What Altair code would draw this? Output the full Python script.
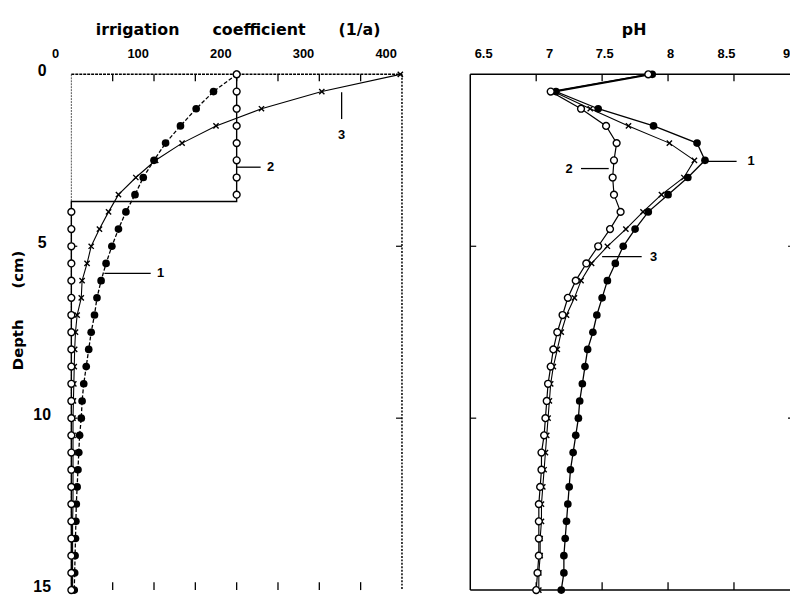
import altair as alt
import pandas as pd

FONT = "Liberation Sans"
TFONT = "DejaVu Sans"

# ---------------- data ----------------
depth = [0, 0.5, 1, 1.5, 2, 2.5, 3, 3.5, 4, 4.5, 5, 5.5, 6, 6.5, 7, 7.5,
         8, 8.5, 9, 9.5, 10, 10.5, 11, 11.5, 12, 12.5, 13, 13.5, 14, 14.5, 15]

# irrigation coefficient (1/a)
irr_1 = [200, 172, 151, 132, 114, 100, 87, 77, 66, 57, 49, 42, 36, 31, 28, 24,
         21, 18, 15, 13, 12, 10, 9, 8, 7, 6, 5.5, 5, 4.5, 4, 3.5]
irr_2 = [200, 200, 200, 200, 200, 200, 200, 200, 0, 0, 0, 0, 0, 0, 0, 0,
         0, 0, 0, 0, 0, 0, 0, 0, 0, 0, 0, 0, 0, 0, 0]
irr_3 = [398, 303, 230, 175, 134, 102, 78, 57, 45, 34, 24, 19, 13, 12, 7, 5,
         4, 3.5, 3, 2.5, 2, 2, 2, 2, 2, 2, 1.5, 1.5, 1.5, 1.5, 1.5]
# step of curve 2 (drawn line)
step_depth = [3.7, 3.7]
step_value = [200, 0]

# pH
ph_1 = [7.88, 7.15, 7.47, 7.89, 8.22, 8.28, 8.15, 8.00, 7.85, 7.75, 7.66, 7.60,
        7.54, 7.50, 7.46, 7.43, 7.39, 7.37, 7.35, 7.33, 7.32, 7.30, 7.28, 7.26,
        7.25, 7.24, 7.23, 7.22, 7.21, 7.21, 7.19]
ph_2 = [7.85, 7.11, 7.34, 7.53, 7.61, 7.59, 7.58, 7.59, 7.64, 7.56, 7.47, 7.38,
        7.30, 7.24, 7.20, 7.16, 7.13, 7.11, 7.09, 7.08, 7.07, 7.06, 7.04, 7.04,
        7.03, 7.02, 7.02, 7.02, 7.02, 7.01, 7.00]
ph_3 = [7.85, 7.13, 7.41, 7.70, 8.01, 8.20, 8.12, 7.95, 7.81, 7.68, 7.54, 7.42,
        7.34, 7.29, 7.23, 7.19, 7.16, 7.13, 7.11, 7.10, 7.09, 7.08, 7.07, 7.06,
        7.05, 7.04, 7.04, 7.03, 7.03, 7.02, 7.02]

irr_ticks = [50, 100, 150, 200, 250, 300, 350]
irr_labels = [0, 100, 200, 300, 400]
ph_ticks = [7, 7.5, 8, 8.5]
ph_labels = [6.5, 7, 7.5, 8, 8.5, 9]
depth_labels = [0, 5, 10, 15]
depth_ticks = [5, 10]

# annotations
ann_L = pd.DataFrame({"label": ["3", "2", "1"], "value": [327, 241, 108],
                      "depth": [1.76, 2.7, 5.79]})
lead_L = pd.DataFrame({"value": [327, 200, 40], "value2": [327, 229, 96],
                       "depth": [0.52, 2.7, 5.79], "depth2": [1.3, 2.7, 5.79]})
ann_R = pd.DataFrame({"label": ["1", "2", "3"], "ph": [8.63, 7.25, 7.89],
                      "depth": [2.53, 2.74, 5.3]})
lead_R = pd.DataFrame({"ph": [8.28, 7.34, 7.50], "ph2": [8.52, 7.55, 7.80],
                       "depth": [2.53, 2.74, 5.3], "depth2": [2.53, 2.74, 5.3]})

# ---------------- frames ----------------
W_L, H = 334, 521
R0, R1 = 403, 736

dL1 = pd.DataFrame({"depth": depth, "value": irr_1})
dL2 = pd.DataFrame({"depth": depth, "value": irr_2})
dL3 = pd.DataFrame({"depth": depth, "value": irr_3})
line2_depth = depth[:8] + step_depth + depth[8:]
line2_value = irr_2[:8] + step_value + irr_2[8:]
dL2line = pd.DataFrame({"depth": line2_depth, "value": line2_value,
                        "ord": list(range(len(line2_depth)))})
dR1 = pd.DataFrame({"depth": depth, "ph": ph_1})
dR2 = pd.DataFrame({"depth": depth, "ph": ph_2})
dR3 = pd.DataFrame({"depth": depth, "ph": ph_3})

NB = "\u00a0"

# ---------------- scales / axes ----------------
yS = alt.Scale(domain=[0, 15], range=[0, H], nice=False, zero=False)
yAx = alt.Axis(values=depth_labels, orient="left", ticks=False, tickSize=0, domain=False,
               grid=False, labelAlign="center", labelBaseline="middle", labelPadding=30,
               labelOffset=-4, labelFont=FONT, labelFontSize=16, labelFontWeight="bold",
               labelColor="black", labelFlush=False, labelOverlap=False,
               title="Depth" + NB * 6 + "(cm)", titleFont=TFONT, titleFontSize=15,
               titleFontWeight="bold", titleColor="black", titleX=-54, titleY=238,
               titleAngle=270, titleAlign="center", titleBaseline="middle")
Y = alt.Y("depth:Q", scale=yS, axis=yAx)

xLS = alt.Scale(domain=[0, 400], range=[0, W_L], nice=False, zero=False)
xLAx = alt.Axis(orient="top", values=irr_labels, ticks=False, tickSize=0, domain=False,
                grid=False, labels=False,
                title="irrigation" + NB * 6 + "coefficient" + NB * 6 + "(1/a)",
                titleFont=TFONT, titleFontSize=16, titleFontWeight="bold", titleColor="black",
                titleX=168, titleY=-45, titleAlign="center", titleBaseline="middle", titleAngle=0)
XL = alt.X("value:Q", scale=xLS, axis=xLAx)

xRS = alt.Scale(domain=[6.5, 9], range=[R0, R1], nice=False, zero=False)
xRAx = alt.Axis(orient="top", values=ph_labels, ticks=False, tickSize=0, domain=False,
                grid=False, labelBaseline="middle", labelPadding=21, format="~g",
                labelOffset={"condition": [{"test": "datum.value < 7.2", "value": 13},
                                           {"test": "datum.value > 8.7", "value": -14},
                                           {"test": "datum.value > 8.2", "value": -8}],
                             "value": 2},
                labelFont=FONT, labelFontSize=13, labelFontWeight="bold", labelColor="black",
                labelFlush=False, labelOverlap=False,
                title="pH", titleFont=TFONT, titleFontSize=16, titleFontWeight="bold",
                titleColor="black", titleX=568, titleY=-45, titleAlign="center",
                titleBaseline="middle", titleAngle=0)
XR = alt.X("ph:Q", scale=xRS, axis=xRAx)

# ---------------- left panel ----------------
borderL = pd.DataFrame({"value": [0, 0, 400], "value2": [0, 400, 400],
                        "depth": [0, 0, 0], "depth2": [15, 0, 15],
                        "kind": ["left", "top", "right"]})
bL_left = alt.Chart(borderL[borderL.kind == "left"]).mark_rule(
    color="#555", strokeWidth=1, strokeDash=[2, 1]).encode(x=XL, x2="value2:Q", y=Y, y2="depth2:Q")
bL_top = alt.Chart(borderL[borderL.kind == "top"]).mark_rule(
    color="black", strokeWidth=1.5, strokeDash=[3, 1]).encode(x=XL, x2="value2:Q", y=Y, y2="depth2:Q")
bL_right = alt.Chart(borderL[borderL.kind == "right"]).mark_rule(
    color="black", strokeWidth=1.5, strokeDash=[2, 1.5]).encode(x=XL, x2="value2:Q", y=Y, y2="depth2:Q")

labL = alt.Chart(pd.DataFrame({"value": irr_labels})).mark_text(
    font=FONT, fontSize=13, fontWeight="bold", color="black", align="center",
    baseline="middle", dx=-16).encode(x=XL, y=alt.value(-21), text=alt.Text("value:Q", format="d"))

tickL_df = pd.DataFrame({"value": irr_ticks})
tL_top = alt.Chart(tickL_df).mark_rule(color="black", strokeWidth=1.3).encode(
    x=XL, y=alt.value(0), y2=alt.value(7))
tL_bot = alt.Chart(tickL_df).mark_rule(color="black", strokeWidth=1.3).encode(
    x=XL, y=alt.value(H - 8), y2=alt.value(H))
dtick = pd.DataFrame({"depth": depth_ticks})
tL_l = alt.Chart(dtick).mark_rule(color="black", strokeWidth=1.2).encode(
    y=Y, x=alt.value(0), x2=alt.value(6))
tL_r = alt.Chart(dtick).mark_rule(color="black", strokeWidth=1.2).encode(
    y=Y, x=alt.value(W_L - 6), x2=alt.value(W_L))

lineL1 = alt.Chart(dL1).mark_line(color="black", strokeWidth=1.3, strokeDash=[4, 2]).encode(
    x=XL, y=Y, order="depth:Q")
lineL2 = alt.Chart(dL2line).mark_line(color="black", strokeWidth=1.4).encode(
    x=XL, y=Y, order="ord:Q")
lineL3 = alt.Chart(dL3).mark_line(color="black", strokeWidth=1.1).encode(
    x=XL, y=Y, order="depth:Q")
ptL1 = alt.Chart(dL1).mark_circle(color="black", size=60, opacity=1).encode(x=XL, y=Y)
ptL2 = alt.Chart(dL2).mark_point(shape="circle", filled=True, fill="white", stroke="black",
                                 strokeWidth=1.4, size=48, opacity=1).encode(x=XL, y=Y)
ptL3 = alt.Chart(dL3).mark_point(shape="M-1,-1L1,1M-1,1L1,-1", filled=False, color="black",
                                 strokeWidth=1.4, size=28, opacity=1).encode(x=XL, y=Y)
leadL = alt.Chart(lead_L).mark_rule(color="black", strokeWidth=1.3).encode(
    x=XL, x2="value2:Q", y=Y, y2="depth2:Q")
txtL = alt.Chart(ann_L).mark_text(font=FONT, fontSize=13, fontWeight="bold", color="black",
                                  align="center", baseline="middle").encode(x=XL, y=Y, text="label:N")

left = alt.layer(bL_left, bL_top, bL_right, labL, tL_top, tL_bot, tL_l, tL_r,
                 lineL3, lineL1, lineL2, ptL3, ptL1, ptL2, leadL, txtL)

# ---------------- right panel ----------------
borderR = pd.DataFrame({"ph": [6.5, 6.5, 6.5], "ph2": [6.5, 9, 9],
                        "depth": [0, 0, 15], "depth2": [15, 0, 15]})
bR = alt.Chart(borderR).mark_rule(color="black", strokeWidth=1.5).encode(
    x=XR, x2="ph2:Q", y=Y, y2="depth2:Q")
tickR_df = pd.DataFrame({"ph": ph_ticks})
tR_top = alt.Chart(tickR_df).mark_rule(color="black", strokeWidth=1.3).encode(
    x=XR, y=alt.value(0), y2=alt.value(7))
tR_bot = alt.Chart(tickR_df).mark_rule(color="black", strokeWidth=1.3).encode(
    x=XR, y=alt.value(H - 8), y2=alt.value(H))
tR_l = alt.Chart(dtick).mark_rule(color="black", strokeWidth=1.2).encode(
    y=Y, x=alt.value(R0), x2=alt.value(R0 + 6))
tR_r = alt.Chart(dtick).mark_rule(color="black", strokeWidth=1.2).encode(
    y=Y, x=alt.value(R1 - 12), x2=alt.value(R1))

lineR1 = alt.Chart(dR1).mark_line(color="black", strokeWidth=1.3).encode(x=XR, y=Y, order="depth:Q")
lineR2 = alt.Chart(dR2).mark_line(color="black", strokeWidth=1.2).encode(x=XR, y=Y, order="depth:Q")
lineR3 = alt.Chart(dR3).mark_line(color="black", strokeWidth=1.1).encode(x=XR, y=Y, order="depth:Q")
ptR1 = alt.Chart(dR1).mark_circle(color="black", size=60, opacity=1).encode(x=XR, y=Y)
ptR2 = alt.Chart(dR2).mark_point(shape="circle", filled=True, fill="white", stroke="black",
                                 strokeWidth=1.4, size=48, opacity=1).encode(x=XR, y=Y)
ptR3 = alt.Chart(dR3).mark_point(shape="M-1,-1L1,1M-1,1L1,-1", filled=False, color="black",
                                 strokeWidth=1.4, size=28, opacity=1).encode(x=XR, y=Y)
leadR = alt.Chart(lead_R).mark_rule(color="black", strokeWidth=1.3).encode(
    x=XR, x2="ph2:Q", y=Y, y2="depth2:Q")
txtR = alt.Chart(ann_R).mark_text(font=FONT, fontSize=13, fontWeight="bold", color="black",
                                  align="center", baseline="middle").encode(x=XR, y=Y, text="label:N")

right = alt.layer(bR, tR_top, tR_bot, tR_l, tR_r, lineR3, lineR1, lineR2,
                  ptR3, ptR1, ptR2, leadR, txtR)

chart = alt.layer(left, right).resolve_scale(x="independent").properties(
    width=726, height=H,
    autosize=alt.AutoSizeParams(type="none"),
    padding={"left": 64, "top": 64, "right": 0, "bottom": 8},
    background="white",
).configure_view(stroke=None)

chart.save("out.html", embed_options={"renderer": "svg", "actions": False})
